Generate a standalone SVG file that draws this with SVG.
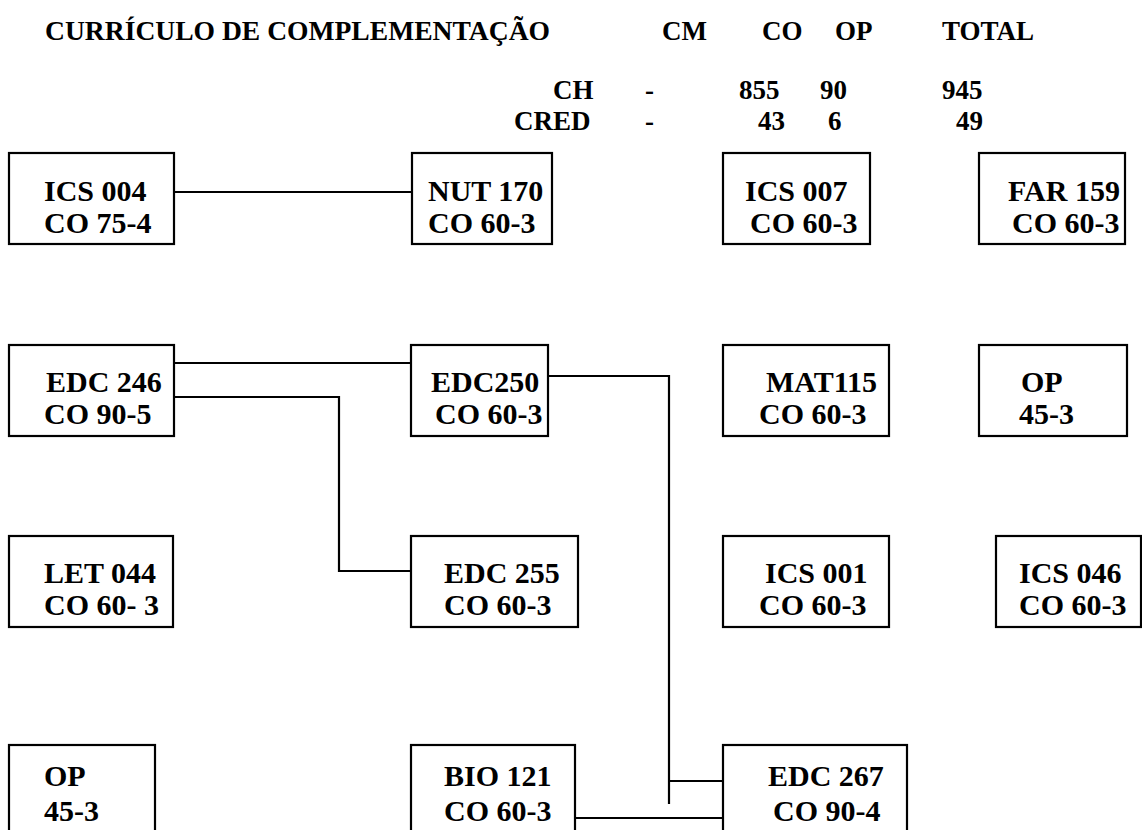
<svg xmlns="http://www.w3.org/2000/svg" width="1142" height="830" viewBox="0 0 1142 830">
<style>
text{font-family:"Liberation Serif","Times New Roman",serif;font-weight:bold;font-size:30px;fill:#000}
.hd{font-size:27px}
rect.box{fill:#fff;stroke:#000;stroke-width:2.2}
.c{fill:none;stroke:#000;stroke-width:2.2}
</style>
<rect width="1142" height="830" fill="#fff"/>
<g id="header">
<text class="hd" x="45" y="40" textLength="505" lengthAdjust="spacingAndGlyphs">CURRÍCULO DE COMPLEMENTAÇÃO</text>
<text class="hd" x="662" y="40">CM</text>
<text class="hd" x="762" y="40">CO</text>
<text class="hd" x="835" y="40">OP</text>
<text class="hd" x="942" y="40">TOTAL</text>
<text class="hd" x="553" y="99">CH</text>
<text class="hd" x="645" y="99">-</text>
<text class="hd" x="739" y="99">855</text>
<text class="hd" x="820" y="99">90</text>
<text class="hd" x="942" y="99">945</text>
<text class="hd" x="514" y="130">CRED</text>
<text class="hd" x="645" y="130">-</text>
<text class="hd" x="758" y="130">43</text>
<text class="hd" x="828" y="130">6</text>
<text class="hd" x="956" y="130">49</text>
</g>
<g id="connectors">
<path class="c" d="M174 192H428"/>
<path class="c" d="M174 363H411"/>
<path class="c" d="M174 397H339V571H411"/>
<path class="c" d="M548 376H669V804M669 781H723"/>
<path class="c" d="M575 818H723"/>
</g>
<g id="ICS004"><rect class="box" x="9" y="153" width="165" height="91"/><text x="44" y="201">ICS 004</text><text x="44" y="233">CO 75-4</text></g>
<g id="NUT170"><rect class="box" x="412" y="153" width="140" height="91"/><text x="428" y="201">NUT 170</text><text x="428" y="233">CO 60-3</text></g>
<g id="ICS007"><rect class="box" x="723" y="153" width="147" height="91"/><text x="745" y="201">ICS 007</text><text x="750" y="233">CO 60-3</text></g>
<g id="FAR159"><rect class="box" x="979" y="153" width="146" height="91"/><text x="1008" y="201">FAR 159</text><text x="1012" y="233">CO 60-3</text></g>
<g id="EDC246"><rect class="box" x="9" y="345" width="165" height="91"/><text x="46" y="392">EDC 246</text><text x="44" y="424">CO 90-5</text></g>
<g id="EDC250"><rect class="box" x="411" y="345" width="137" height="91"/><text x="431" y="392">EDC250</text><text x="435" y="424">CO 60-3</text></g>
<g id="MAT115"><rect class="box" x="723" y="345" width="166" height="91"/><text x="766" y="392">MAT115</text><text x="759" y="424">CO 60-3</text></g>
<g id="OP1"><rect class="box" x="979" y="345" width="148" height="91"/><text x="1021" y="392">OP</text><text x="1019" y="424">45-3</text></g>
<g id="LET044"><rect class="box" x="9" y="536" width="164" height="91"/><text x="44" y="583">LET 044</text><text x="44" y="615">CO 60- 3</text></g>
<g id="EDC255"><rect class="box" x="411" y="536" width="167" height="91"/><text x="444" y="583">EDC 255</text><text x="444" y="615">CO 60-3</text></g>
<g id="ICS001"><rect class="box" x="723" y="536" width="166" height="91"/><text x="765" y="583">ICS 001</text><text x="759" y="615">CO 60-3</text></g>
<g id="ICS046"><rect class="box" x="996" y="536" width="145" height="91"/><text x="1019" y="583">ICS 046</text><text x="1019" y="615">CO 60-3</text></g>
<g id="OP2"><rect class="box" x="9" y="745" width="146" height="110"/><text x="44" y="786">OP</text><text x="44" y="821">45-3</text></g>
<g id="BIO121"><rect class="box" x="411" y="745" width="164" height="110"/><text x="444" y="786">BIO 121</text><text x="444" y="821">CO 60-3</text></g>
<g id="EDC267"><rect class="box" x="723" y="745" width="184" height="110"/><text x="768" y="786">EDC 267</text><text x="773" y="821">CO 90-4</text></g>
</svg>
